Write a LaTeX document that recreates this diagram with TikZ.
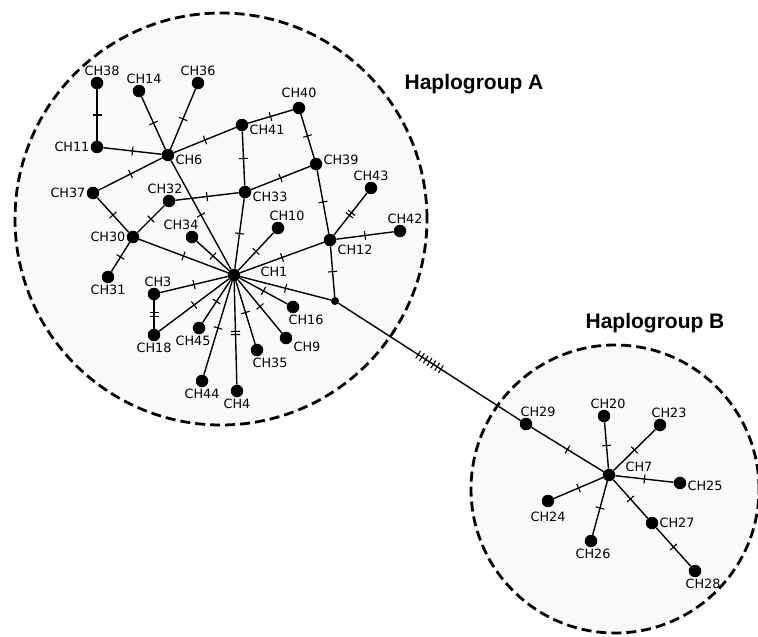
\documentclass[tikz,border=0pt]{standalone}
\usepackage{fontspec}
\setmainfont{DejaVu Sans}
\newfontfamily\grpfont{Liberation Sans}
\usetikzlibrary{decorations.markings}
\tikzset{
  hap/.style={circle,fill=black,inner sep=0pt,minimum size=12.5pt},
  jct/.style={circle,fill=black,inner sep=0pt,minimum size=8pt},
  every label/.style={font=\fontsize{12.8}{14}\selectfont,inner sep=1pt},
  link/.style={line width=1.4pt},
  mutn/.style 2 args={postaction={decorate,decoration={markings,mark=at position 0.5 with {\foreach \k in {1,...,#1}{\draw[line width=1.1pt] ({(\k-(#1+1)/2)*#2},-4.5pt) -- ++(0,9pt);}}}}},
  mut/.style={mutn={#1}{3.2pt}},
  mut/.default=1,
  group/.style={draw,line width=2.8pt,dash pattern=on 10pt off 5pt,fill=black!2},
  grouplabel/.style={font=\grpfont\bfseries\fontsize{21}{24}\selectfont},
}
\begin{document}
\begin{tikzpicture}[x=1pt,y=-1pt]
\useasboundingbox (0,0) rectangle (758,637);
% the two haplogroups
\draw[group] (221,219) circle [radius=206pt];
\draw[group] (615,489) circle [radius=144pt];
\node[grouplabel] (grpA) at (474,84) {Haplogroup A};
\node[grouplabel] (grpB) at (655,323) {Haplogroup B};
% haplogroup A
\node[hap,label={[xshift=5pt]above:CH38}] (ch38) at (97,83) {};
\node[hap,label={[xshift=5pt]above:CH14}] (ch14) at (139,91) {};
\node[hap,label={above:CH36}] (ch36) at (198,83) {};
\node[hap,label={left:CH11}] (ch11) at (97,147) {};
\node[hap,label={[yshift=-5pt]right:CH6}] (ch6) at (168,155) {};
\node[hap,label={left:CH37}] (ch37) at (93,193) {};
\node[hap,label={[xshift=-4pt]above:CH32}] (ch32) at (169,201) {};
\node[hap,label={[yshift=3pt]above:CH40}] (ch40) at (299,108) {};
\node[hap,label={[yshift=-5pt]right:CH41}] (ch41) at (242,125) {};
\node[hap,label={[yshift=4pt]right:CH39}] (ch39) at (316,164) {};
\node[hap,label={[yshift=-5pt]right:CH33}] (ch33) at (245,192) {};
\node[hap,label={above:CH43}] (ch43) at (371,188) {};
\node[hap,label={[xshift=9pt]above:CH10}] (ch10) at (278,228) {};
\node[hap,label={[xshift=5pt]above:CH42}] (ch42) at (400,231) {};
\node[hap,label={[yshift=-10pt]right:CH12}] (ch12) at (330,240) {};
\node[hap,label={left:CH30}] (ch30) at (133,237) {};
\node[hap,label={[xshift=-11pt]above:CH34}] (ch34) at (192,237) {};
\node[hap,label={below:CH31}] (ch31) at (108,277) {};
\node[hap,label={[xshift=19pt,yshift=3pt]right:CH1}] (ch1) at (234,275) {};
\node[hap,label={[xshift=4pt]above:CH3}] (ch3) at (154,294) {};
\node[hap,label={below:CH18}] (ch18) at (154,335) {};
\node[hap,label={[xshift=-6pt]below:CH45}] (ch45) at (199,328) {};
\node[hap,label={below:CH44}] (ch44) at (202,381) {};
\node[hap,label={below:CH4}] (ch4) at (237,391) {};
\node[hap,label={[xshift=13pt]below:CH35}] (ch35) at (257,350) {};
\node[hap,label={[xshift=13pt]below:CH16}] (ch16) at (293,307) {};
\node[hap,label={[yshift=-9pt]right:CH9}] (ch9) at (286,338) {};
\node[jct] (j1) at (335,301) {};
% haplogroup B
\node[hap,label={[xshift=12pt]above:CH29}] (ch29) at (526,424) {};
\node[hap,label={[xshift=4pt]above:CH20}] (ch20) at (604,416) {};
\node[hap,label={[xshift=9pt]above:CH23}] (ch23) at (660,425) {};
\node[hap,label={[xshift=9pt,yshift=8pt]right:CH7}] (ch7) at (609,475) {};
\node[hap,label={[yshift=-3pt]right:CH25}] (ch25) at (680,483) {};
\node[hap,label={[yshift=-3pt]below:CH24}] (ch24) at (548,501) {};
\node[hap,label={right:CH27}] (ch27) at (652,523) {};
\node[hap,label={[xshift=2pt]below:CH26}] (ch26) at (591,541) {};
\node[hap,label={[xshift=8pt]below:CH28}] (ch28) at (695,571) {};
% links of haplogroup A
\draw[link,mut] (ch38) -- (ch11);
\draw[link,mut] (ch11) -- (ch6);
\draw[link,mut] (ch14) -- (ch6);
\draw[link,mut] (ch36) -- (ch6);
\draw[link,mut] (ch6) -- (ch41);
\draw[link,mut] (ch6) -- (ch37);
\draw[link,mut] (ch6) -- (ch1);
\draw[link,mut] (ch41) -- (ch40);
\draw[link,mut] (ch41) -- (ch33);
\draw[link,mut] (ch40) -- (ch39);
\draw[link,mut] (ch39) -- (ch33);
\draw[link,mut] (ch39) -- (ch12);
\draw[link,mut] (ch33) -- (ch32);
\draw[link,mut] (ch33) -- (ch1);
\draw[link,mut] (ch37) -- (ch30);
\draw[link,mut] (ch32) -- (ch30);
\draw[link,mut] (ch30) -- (ch31);
\draw[link,mut] (ch30) -- (ch1);
\draw[link,mut] (ch34) -- (ch1);
\draw[link,mut] (ch10) -- (ch1);
\draw[link,mut] (ch12) -- (ch1);
\draw[link,mut=2] (ch12) -- (ch43);
\draw[link,mut] (ch12) -- (ch42);
\draw[link,mut] (ch12) -- (j1);
\draw[link,mut] (ch1) -- (j1);
\draw[link,mut] (ch1) -- (ch16);
\draw[link,mut] (ch1) -- (ch9);
\draw[link,mut] (ch1) -- (ch35);
\draw[link,mut=2] (ch1) -- (ch4);
\draw[link,mut] (ch1) -- (ch44);
\draw[link,mut] (ch1) -- (ch45);
\draw[link,mut] (ch1) -- (ch18);
\draw[link,mut] (ch1) -- (ch3);
\draw[link,mut=2] (ch3) -- (ch18);
% between the groups
\draw[link,mutn={7}{4.5pt}] (j1) -- (ch29);
% links of haplogroup B
\draw[link,mut] (ch29) -- (ch7);
\draw[link,mut] (ch7) -- (ch20);
\draw[link,mut] (ch7) -- (ch23);
\draw[link,mut] (ch7) -- (ch25);
\draw[link,mut] (ch7) -- (ch24);
\draw[link,mut] (ch7) -- (ch26);
\draw[link,mut] (ch7) -- (ch27);
\draw[link,mut] (ch27) -- (ch28);
\end{tikzpicture}
\end{document}
